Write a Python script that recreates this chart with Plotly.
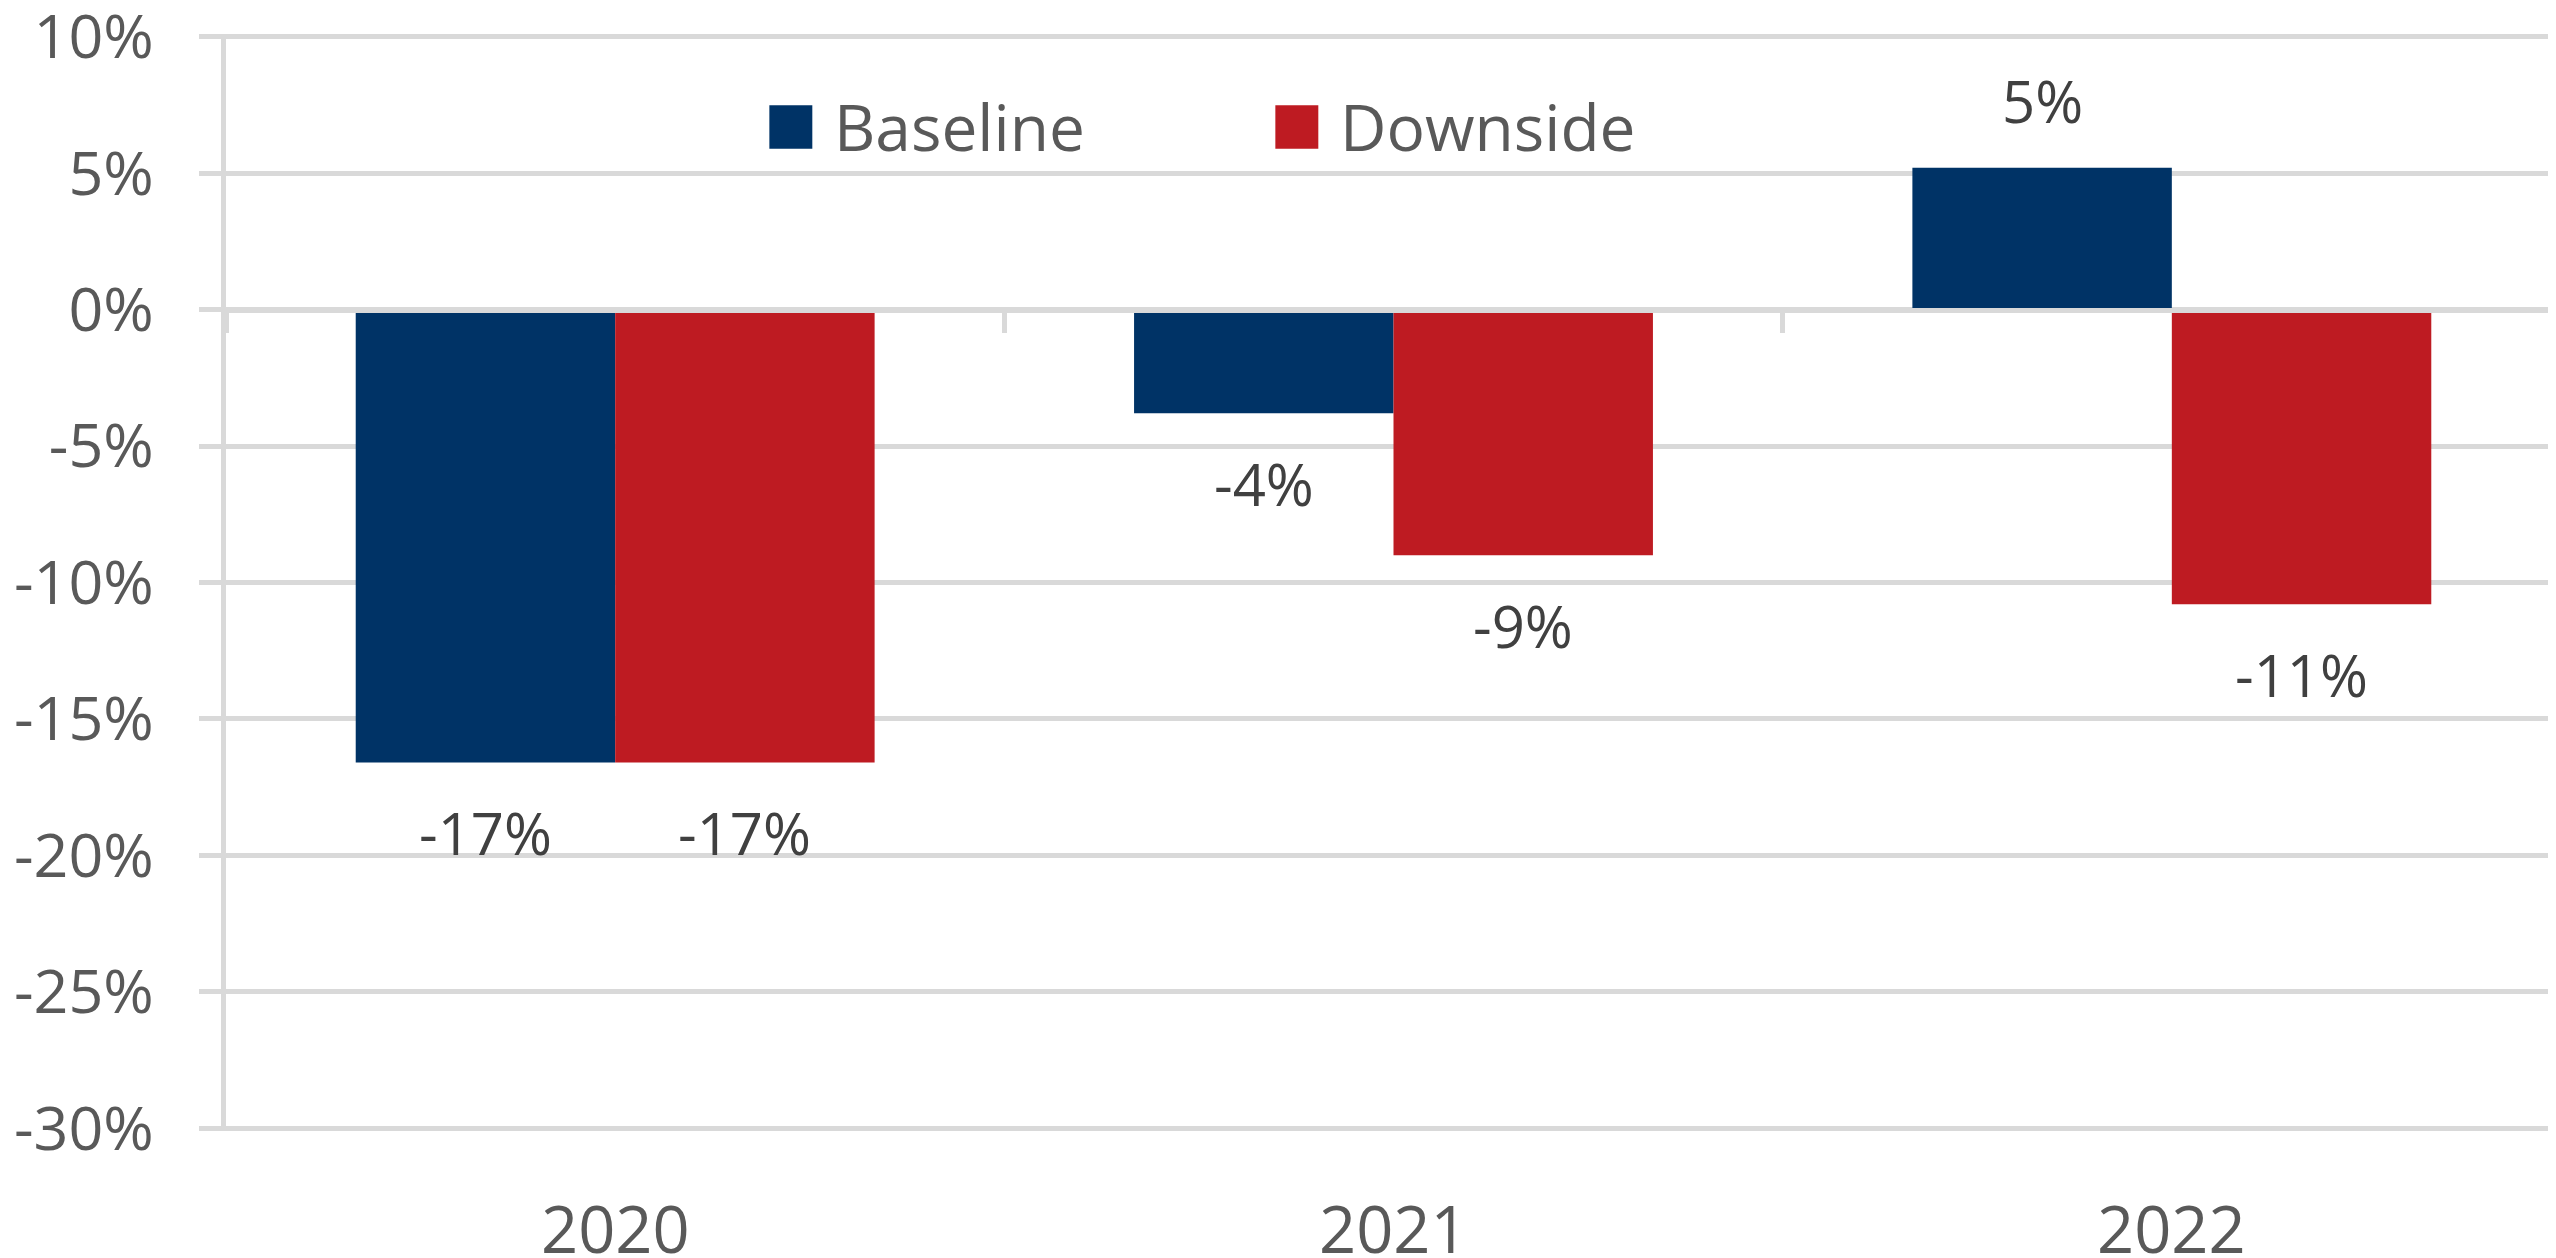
import plotly.graph_objects as go

years = ["2020", "2021", "2022"]
series_names = ["Baseline", "Downside"]
baseline = [-16.6, -3.8, 5.2]
downside = [-16.6, -9.0, -10.8]
series_colors = ["#003366", "#BE1B22"]
y_ticks = [10, 5, 0, -5, -10, -15, -20, -25, -30]

FONT = "Open Sans, Segoe UI, sans-serif"
GRID = "#D9D9D9"

fig = go.Figure()
for name, vals, col in zip(series_names, [baseline, downside], series_colors):
    fig.add_trace(go.Bar(x=years, y=vals, name=name, marker=dict(color=col, line=dict(width=0)),
                         showlegend=False))

W, H = 2556, 1258
# small padding on the y range so the edge gridlines (10% / -30%) are drawn
y_min, y_max = -30.1, 10.1
px_per_unit = 1091 / 40
L, R = 218, 3
T = 29 - (y_max - 10) * px_per_unit
B = 138 - (-30 - y_min) * px_per_unit
plot_w = W - L - R
bar_w = plot_w / len(years) / 3
offsets = [-bar_w / 2, bar_w / 2]

# data labels (category axis -> annotation x is the category index)
for vals, dx in zip([baseline, downside], offsets):
    for i, v in enumerate(vals):
        fig.add_annotation(x=i, y=v, text=f"{round(v):.0f}%", showarrow=False,
                           xshift=dx, yshift=67 if v > 0 else -70, yanchor="middle",
                           font=dict(family=FONT, size=58, color="#404040"))

# category labels sit at the bottom, while the axis line itself is at zero
for i, yr in enumerate(years):
    fig.add_annotation(x=i, y=-30, yanchor="middle", yshift=-100,
                       text=yr, showarrow=False,
                       font=dict(family=FONT, size=65, color="#595959"))

# legend drawn by hand so the swatches match the big squares
legend_x = [0.2327, 0.4494]
sq_w = 0.0184
for name, col, lx in zip(series_names, series_colors, legend_x):
    fig.add_shape(type="rect", xref="paper", yref="paper", x0=lx, x1=lx + sq_w,
                  y0=0.8955, y1=0.935, fillcolor=col, line=dict(width=0))
    fig.add_annotation(xref="paper", yref="paper", x=lx + sq_w + 0.0085, y=0.9155,
                       xanchor="left", yanchor="middle", text=name, showarrow=False,
                       font=dict(family=FONT, size=64, color="#595959"))

fig.update_layout(
    width=W, height=H,
    margin=dict(l=L, r=R, t=T, b=B),
    plot_bgcolor="white", paper_bgcolor="white",
    barmode="group", bargap=1 / 3, bargroupgap=0,
    font=dict(family=FONT, color="#595959"),
    xaxis=dict(type="category", range=[-0.5, 2.5], anchor="free",
               position=(0 - y_min) / (y_max - y_min),
               tickson="boundaries", automargin=False,
               ticks="outside", ticklen=20, tickwidth=5, tickcolor=GRID,
               showline=True, linecolor=GRID, linewidth=5,
               showticklabels=False, showgrid=False, zeroline=False),
    yaxis=dict(range=[y_min, y_max], tickvals=y_ticks, ticktext=[f"{v}%" for v in y_ticks],
               showgrid=True, gridcolor=GRID, gridwidth=5, zeroline=False,
               showline=True, linecolor=GRID, linewidth=5, automargin=False,
               ticks="outside", ticklen=22, tickwidth=5, tickcolor=GRID,
               tickfont=dict(size=61, color="#595959"), ticklabelstandoff=33,
               ticklabeloverflow="allow"),
)

fig.write_html("out.html")
